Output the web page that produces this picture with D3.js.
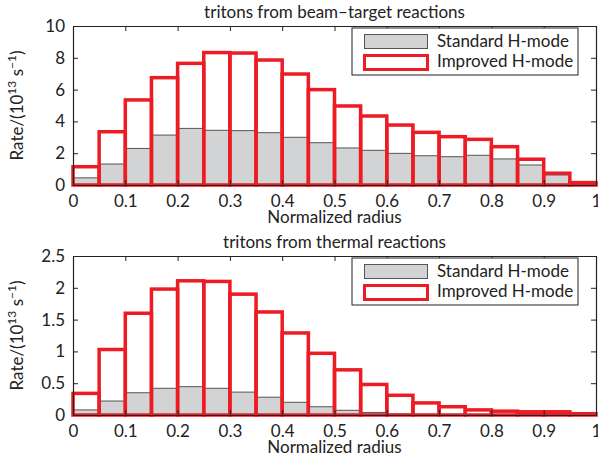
<!DOCTYPE html>
<html>
<head>
<meta charset="utf-8">
<script src="https://cdn.jsdelivr.net/npm/d3@7"></script>
<style>
  body { margin: 0; background: #fff; }
  text { font-family: Lato, "Open Sans", sans-serif; fill: #222; }
</style>
</head>
<body>
<div id="chart"></div>
<script>
// bin left edges (normalized radius), bin width 0.05
const binEdges = d3.range(20).map(i => +(i * 0.05).toFixed(2));
const binWidth = 0.05;

// beam-target reactions
const beamStandard = [0.45, 1.32, 2.3, 3.14, 3.56, 3.44, 3.42, 3.29, 3.0, 2.66,
                      2.33, 2.18, 1.99, 1.84, 1.78, 1.87, 1.64, 1.26, 0.63, 0.1];
const beamImproved = [1.15, 3.35, 5.35, 6.75, 7.65, 8.33, 8.3, 7.86, 6.98, 6.0,
                      4.97, 4.34, 3.77, 3.31, 3.04, 2.87, 2.41, 1.62, 0.74, 0.15];

// thermal reactions
const thermStandard = [0.08, 0.22, 0.35, 0.42, 0.445, 0.42, 0.36, 0.28, 0.2, 0.13,
                       0.074, 0.04, 0.015, 0.01, 0.005, 0.004, 0.003, 0.002, 0.002, 0.001];
const thermImproved = [0.34, 1.03, 1.6, 1.98, 2.11, 2.1, 1.9, 1.62, 1.29, 0.97,
                       0.71, 0.48, 0.31, 0.19, 0.13, 0.08, 0.06, 0.05, 0.05, 0.02];

const xTicks = d3.range(0, 1.01, 0.1).map(v => +v.toFixed(1));
const beamTicks = [0, 2, 4, 6, 8, 10];
const thermTicks = [0, 0.5, 1, 1.5, 2, 2.5];
const legendLabels = ["Standard H-mode", "Improved H-mode"];

const RED = "#ed1c24";
const GREY = "#d1d3d4";
const FS = "17px";

const svg = d3.select("#chart").append("svg")
  .attr("width", 598)
  .attr("height", 463);

function panel(top, title, standard, improved, yMax, yTicks) {
  const left = 73, right = 596, h = 159;
  const x = d3.scaleLinear().domain([0, 1]).range([left, right]);
  const y = d3.scaleLinear().domain([0, yMax]).range([top + h, top]);
  const g = svg.append("g");

  // standard bars (filled grey)
  g.selectAll(".std").data(binEdges).enter().append("rect")
    .attr("class", "std")
    .attr("x", d => x(d))
    .attr("width", x(binWidth) - x(0))
    .attr("y", (d, i) => y(standard[i]))
    .attr("height", (d, i) => y(0) - y(standard[i]))
    .attr("fill", GREY)
    .attr("stroke", "#555")
    .attr("stroke-width", 1);

  // improved bars (red outline)
  g.selectAll(".imp").data(binEdges).enter().append("rect")
    .attr("class", "imp")
    .attr("x", d => x(d))
    .attr("width", x(binWidth) - x(0))
    .attr("y", (d, i) => y(improved[i]))
    .attr("height", (d, i) => y(0) - y(improved[i]))
    .attr("fill", "none")
    .attr("stroke", RED)
    .attr("stroke-width", 3.5);

  // axes box with inward ticks
  const fmt = d3.format("~g");
  const ax = g.append("g").attr("class", "axes");
  ax.append("g")
    .attr("transform", "translate(0," + (top + h) + ")")
    .call(d3.axisBottom(x).tickValues(xTicks).tickSizeInner(-5).tickSizeOuter(0)
      .tickPadding(10).tickFormat(fmt));
  ax.append("g")
    .attr("transform", "translate(0," + top + ")")
    .call(d3.axisTop(x).tickValues(xTicks).tickSizeInner(-5).tickSizeOuter(0).tickFormat(""));
  ax.append("g")
    .attr("transform", "translate(" + left + ",0)")
    .call(d3.axisLeft(y).tickValues(yTicks).tickSizeInner(-5).tickSizeOuter(0)
      .tickPadding(8).tickFormat(fmt));
  ax.append("g")
    .attr("transform", "translate(" + right + ",0)")
    .call(d3.axisRight(y).tickValues(yTicks).tickSizeInner(-5).tickSizeOuter(0).tickFormat(""));
  ax.selectAll(".domain").attr("stroke", "#222").attr("stroke-width", 1.2);
  ax.selectAll(".tick line").attr("stroke", "#222");
  ax.selectAll(".tick text").style("font-size", FS).attr("fill", "#222");

  // title
  g.append("text")
    .attr("x", (left + right) / 2)
    .attr("y", top - 8)
    .attr("text-anchor", "middle")
    .style("font-size", FS)
    .text(title);

  // x label
  g.append("text")
    .attr("x", (left + right) / 2)
    .attr("y", top + h + 38)
    .attr("text-anchor", "middle")
    .style("font-size", FS)
    .text("Normalized radius");

  // y label
  const yl = g.append("text")
    .attr("transform", "translate(23," + (top + h / 2) + ") rotate(-90)")
    .attr("text-anchor", "middle")
    .style("font-size", FS);
  yl.append("tspan").text("Rate/(10");
  yl.append("tspan").attr("dy", -7).style("font-size", "12px").text("13");
  yl.append("tspan").attr("dy", 7).text(" s");
  yl.append("tspan").attr("dy", -7).style("font-size", "12px").text("\u22121");
  yl.append("tspan").attr("dy", 7).text(")");

  // legend
  const lg = g.append("g").attr("transform", "translate(352," + (top + 2) + ")");
  lg.append("rect")
    .attr("width", 226).attr("height", 47)
    .attr("fill", "#fff").attr("stroke", "#222").attr("stroke-width", 1);
  lg.selectAll(".sw").data(legendLabels).enter().append("rect")
    .attr("x", 12.5)
    .attr("y", (d, i) => 6.5 + i * 21)
    .attr("width", 63).attr("height", 14)
    .attr("fill", (d, i) => i === 0 ? GREY : "#fff")
    .attr("stroke", (d, i) => i === 0 ? "#555" : RED)
    .attr("stroke-width", (d, i) => i === 0 ? 1 : 3);
  lg.selectAll(".lt").data(legendLabels).enter().append("text")
    .attr("x", 85)
    .attr("y", (d, i) => 19 + i * 20)
    .style("font-size", FS)
    .text(d => d);
}

panel(26, "tritons from beam\u2013target reactions", beamStandard, beamImproved, 10, beamTicks);
panel(256, "tritons from thermal reactions", thermStandard, thermImproved, 2.5, thermTicks);
</script>
</body>
</html>
